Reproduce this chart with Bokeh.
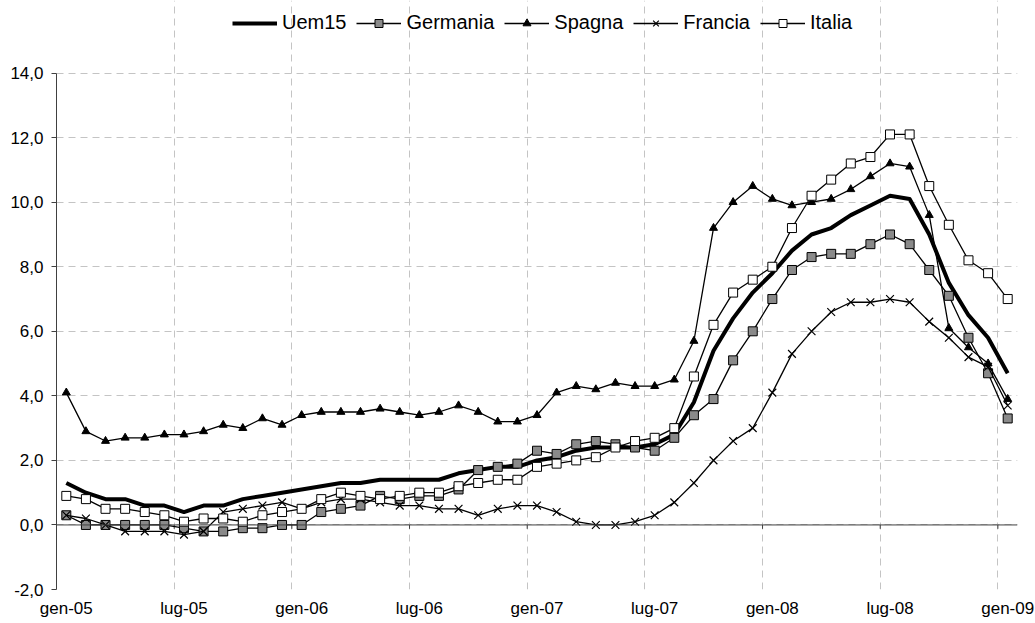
from bokeh.plotting import figure
from bokeh.models import FixedTicker, Legend, LegendItem, Span
from bokeh.embed import file_html
from bokeh.resources import INLINE

# ---- data ----
mesi = ["gen", "feb", "mar", "apr", "mag", "giu", "lug", "ago", "set", "ott", "nov", "dic"]
anni = ["05", "06", "07", "08", "09"]
periodi = [f"{m}-{a}" for a in anni for m in mesi][:49]

uem15 = [1.3, 1.0, 0.8, 0.8, 0.6, 0.6, 0.4, 0.6, 0.6, 0.8, 0.9, 1.0,
         1.1, 1.2, 1.3, 1.3, 1.4, 1.4, 1.4, 1.4, 1.6, 1.7, 1.8, 1.8,
         2.0, 2.1, 2.3, 2.4, 2.4, 2.4, 2.5, 2.8, 3.8, 5.4, 6.4, 7.2,
         7.8, 8.5, 9.0, 9.2, 9.6, 9.9, 10.2, 10.1, 9.0, 7.5, 6.5, 5.8,
         4.7]
germania = [0.3, 0.0, 0.0, 0.0, 0.0, 0.0, -0.1, -0.2, -0.2, -0.1, -0.1, 0.0,
            0.0, 0.4, 0.5, 0.6, 0.9, 0.8, 0.9, 0.9, 1.1, 1.7, 1.8, 1.9,
            2.3, 2.2, 2.5, 2.6, 2.5, 2.4, 2.3, 2.7, 3.4, 3.9, 5.1, 6.0,
            7.0, 7.9, 8.3, 8.4, 8.4, 8.7, 9.0, 8.7, 7.9, 7.1, 5.8, 4.7,
            3.3]
spagna = [4.1, 2.9, 2.6, 2.7, 2.7, 2.8, 2.8, 2.9, 3.1, 3.0, 3.3, 3.1,
          3.4, 3.5, 3.5, 3.5, 3.6, 3.5, 3.4, 3.5, 3.7, 3.5, 3.2, 3.2,
          3.4, 4.1, 4.3, 4.2, 4.4, 4.3, 4.3, 4.5, 5.7, 9.2, 10.0, 10.5,
          10.1, 9.9, 10.0, 10.1, 10.4, 10.8, 11.2, 11.1, 9.6, 6.1, 5.5, 5.0,
          3.9]
francia = [0.3, 0.2, 0.0, -0.2, -0.2, -0.2, -0.3, -0.2, 0.4, 0.5, 0.6, 0.7,
           0.5, 0.7, 0.8, 0.8, 0.7, 0.6, 0.6, 0.5, 0.5, 0.3, 0.5, 0.6,
           0.6, 0.4, 0.1, 0.0, 0.0, 0.1, 0.3, 0.7, 1.3, 2.0, 2.6, 3.0,
           4.1, 5.3, 6.0, 6.6, 6.9, 6.9, 7.0, 6.9, 6.3, 5.8, 5.2, 4.9,
           3.7]
italia = [0.9, 0.8, 0.5, 0.5, 0.4, 0.3, 0.1, 0.2, 0.2, 0.1, 0.3, 0.4,
          0.5, 0.8, 1.0, 0.9, 0.8, 0.9, 1.0, 1.0, 1.2, 1.3, 1.4, 1.4,
          1.8, 1.9, 2.0, 2.1, 2.4, 2.6, 2.7, 3.0, 4.6, 6.2, 7.2, 7.6,
          8.0, 9.2, 10.2, 10.7, 11.2, 11.4, 12.1, 12.1, 10.5, 9.3, 8.2, 7.8,
          7.0]
y_ticks = [-2, 0, 2, 4, 6, 8, 10, 12, 14]

x = list(range(len(periodi)))
label_idx = x[::6]
bounds = [i - 0.5 for i in x[6::6]]

FONT = "Liberation Sans"
AX = "#404040"
Y_TOP = 16.25  # head-room above 14,0 where the legend sits

p = figure(width=1035, height=623, output_backend="svg", toolbar_location=None,
           x_range=(-0.5, len(x) - 0.5), y_range=(y_ticks[0], Y_TOP),
           min_border_left=56, min_border_right=18, min_border_top=0, min_border_bottom=34)
p.outline_line_color = None
p.background_fill_color = "white"
p.border_fill_color = "white"

# y axis
p.yaxis.ticker = FixedTicker(ticks=y_ticks)
p.yaxis.bounds = (y_ticks[0], y_ticks[-1])
p.yaxis.major_label_overrides = {v: f"{v:.1f}".replace(".", ",") for v in y_ticks}
p.yaxis.axis_line_color = AX
p.yaxis.major_tick_line_color = AX
p.yaxis.major_tick_out = 5
p.yaxis.major_tick_in = 0
p.yaxis.minor_tick_line_color = None
p.yaxis.major_label_standoff = 8
p.yaxis.major_label_text_font = FONT
p.yaxis.major_label_text_font_size = "17px"
p.yaxis.major_label_text_color = "black"

# x axis
p.xaxis.ticker = FixedTicker(ticks=label_idx)
p.xaxis.major_label_overrides = {i: periodi[i] for i in label_idx}
p.xaxis.axis_line_color = None
p.xaxis.major_tick_line_color = None
p.xaxis.minor_tick_line_color = None
p.xaxis.major_tick_out = 0
p.xaxis.major_tick_in = 0
p.xaxis.major_label_standoff = 9
p.xaxis.major_label_text_font = FONT
p.xaxis.major_label_text_font_size = "17px"
p.xaxis.major_label_text_color = "black"

# grids
p.ygrid.ticker = FixedTicker(ticks=y_ticks)
p.xgrid.ticker = FixedTicker(ticks=bounds)
p.xgrid.bounds = (y_ticks[0], y_ticks[-1])
for g in (p.xgrid, p.ygrid):
    g.grid_line_color = "#c4c4c4"
    g.grid_line_dash = "7 5"
    g.grid_line_width = 1

# zero line with ticks
p.add_layout(Span(location=0, dimension="width", line_color=AX, line_width=1))
p.segment(x0=bounds, y0=[0] * len(bounds), x1=bounds, y1=[-0.12] * len(bounds),
          line_color=AX, line_width=1)

# series
r_uem = p.line(x, uem15, line_color="black", line_width=4, line_join="round")

r_ger_l = p.line(x, germania, line_color="black", line_width=1.3)
r_ger_m = p.scatter(x, germania, marker="square", size=9, fill_color="#8a8a8a",
                    line_color="black", line_width=1)

r_spa_l = p.line(x, spagna, line_color="black", line_width=1.3)
r_spa_m = p.scatter(x, spagna, marker="triangle", size=8, fill_color="black",
                    line_color="black", line_width=1)

r_fra_l = p.line(x, francia, line_color="black", line_width=1.3)
r_fra_m = p.scatter(x, francia, marker="x", size=11, line_color="black", line_width=1.2)

r_ita_l = p.line(x, italia, line_color="black", line_width=1.3)
r_ita_m = p.scatter(x, italia, marker="square", size=9, fill_color="white",
                    line_color="black", line_width=1)

legend = Legend(items=[
    LegendItem(label="Uem15", renderers=[r_uem]),
    LegendItem(label="Germania", renderers=[r_ger_l, r_ger_m]),
    LegendItem(label="Spagna", renderers=[r_spa_l, r_spa_m]),
    LegendItem(label="Francia", renderers=[r_fra_l, r_fra_m]),
    LegendItem(label="Italia", renderers=[r_ita_l, r_ita_m]),
], orientation="horizontal", location=(176, 555),
    label_text_font=FONT, label_text_font_size="20px", label_text_color="black",
    glyph_width=45, glyph_height=20, label_standoff=5, spacing=10,
    padding=0, margin=0, border_line_color=None, background_fill_alpha=0)
p.add_layout(legend)

open("out.html", "w").write(file_html(p, INLINE))
